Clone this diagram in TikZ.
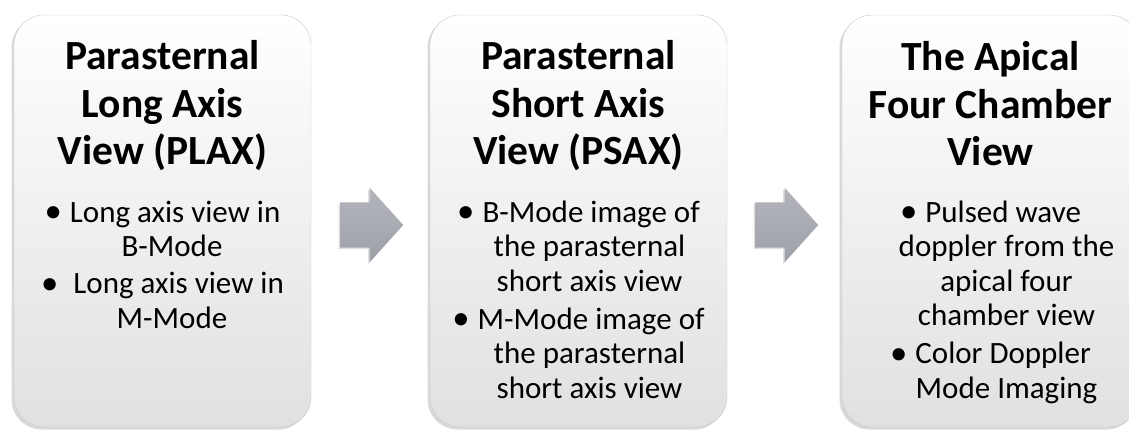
\documentclass[tikz,border=0pt]{standalone}
\usepackage{fontspec}
\setmainfont{Carlito}
\usetikzlibrary{shapes.arrows,shadows}
\definecolor{arrowtop}{RGB}{180,181,188}
\definecolor{arrowbot}{RGB}{158,160,168}
\newcommand{\vbul}{\raisebox{-.5pt}{\scalebox{1.12}{\textbullet}}}
\tikzset{
  viewbox/.style={draw=black!22, rounded corners=30pt, inner sep=0pt,
    minimum width=297pt, minimum height=412pt,
    top color=white, middle color=white, bottom color=black!12,
    drop shadow={shadow xshift=-2.5pt, shadow yshift=-2.5pt, opacity=.3}},
  viewtitle/.style={anchor=north, align=center, inner sep=0pt,
    font=\bfseries\fontsize{41.5}{47.5}\selectfont},
  viewlist/.style={anchor=north, align=center, inner sep=0pt,
    font=\fontsize{31}{34.5}\selectfont},
  steparrow/.style={single arrow, draw=none, inner sep=0pt, anchor=tail,
    text height=22.5pt, text depth=22.5pt, text width=0pt,
    minimum height=63pt, single arrow head extend=14.5pt,
    single arrow head indent=0pt, single arrow tip angle=96,
    top color=arrowtop, bottom color=arrowbot,
    drop shadow={shadow xshift=-1.5pt, shadow yshift=-1.5pt, opacity=.25}}
}
\begin{document}
\begin{tikzpicture}[x=1pt,y=-1pt]
  \useasboundingbox (0,0) rectangle (1129,430);

  % The three view boxes.
  \node[viewbox] (b1) at (162.5,221) {};
  \node[viewbox] (b2) at (578.5,221) {};
  \node[viewbox] (b3) at (990.5,221) {};

  % Block arrows between them.
  \node[steparrow] (a1) at (340,225) {};
  \node[steparrow] (a2) at (755,225) {};

  % Box texts: title on top, bullets below.
  \node[viewtitle] (t1) at ([yshift=-21.5pt]b1.north)
    {\strut Parasternal\\Long Axis\\View (PLAX)};
  \node[viewlist] (l1) at ([yshift=-183pt]b1.north)
    {\strut\vbul\hspace{8pt}Long axis view in\\\hspace*{19pt}B-Mode\\[2.5pt]
     \vbul\hspace{15pt}Long axis view in\\\hspace*{19pt}M-Mode};

  \node[viewtitle] (t2) at ([yshift=-21.5pt]b2.north)
    {\strut Parasternal\\Short Axis\\View (PSAX)};
  \node[viewlist] (l2) at ([yshift=-183pt]b2.north)
    {\strut\vbul\hspace{8pt}B-Mode image of\\\hspace*{22pt}the parasternal\\
     \hspace*{22pt}short axis view\\[3.5pt]
     \vbul\hspace{8pt}M-Mode image of\\\hspace*{22pt}the parasternal\\
     \hspace*{22pt}short axis view};

  \node[viewtitle] (t3) at ([yshift=-22.5pt]b3.north)
    {\strut The Apical\\Four Chamber\\View};
  \node[viewlist] (l3) at ([yshift=-183pt]b3.north)
    {\strut\vbul\hspace{8pt}Pulsed wave\\\hspace*{32pt}doppler from the\\
     \hspace*{32pt}apical four\\\hspace*{32pt}chamber view\\[3.5pt]
     \vbul\hspace{8pt}Color Doppler\\\hspace*{32pt}Mode Imaging};
\end{tikzpicture}
\end{document}
